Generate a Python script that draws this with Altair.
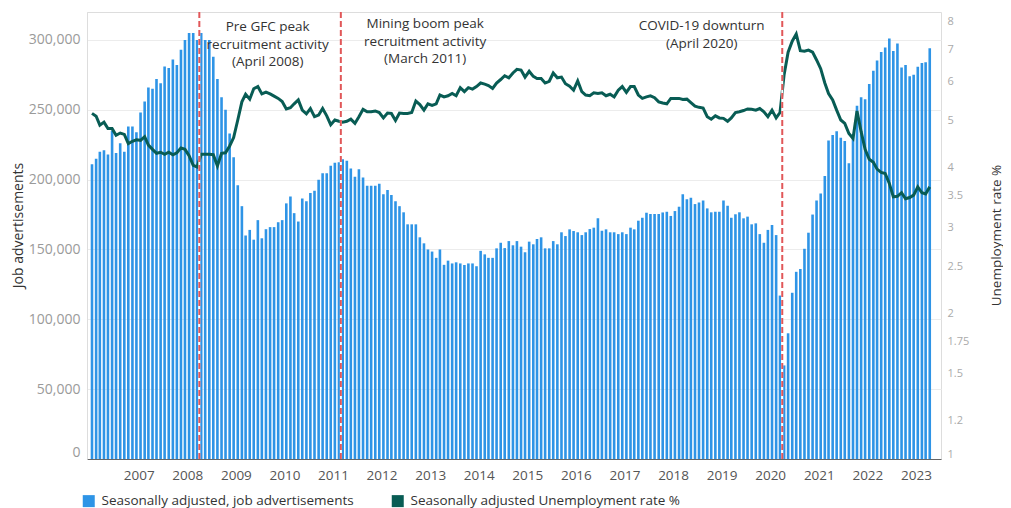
import altair as alt
import pandas as pd

SERIES_ADS = "Seasonally adjusted, job advertisements"
SERIES_UR = "Seasonally adjusted Unemployment rate %"

# Job advertisements (thousands), monthly Jan 2006 - Apr 2023
ads_k = [
    211, 215, 220, 221, 218, 235, 219, 226, 220, 238, 238, 234,              # 2006
    248, 256, 266, 265, 272, 269, 281, 280, 286, 282, 293, 300,              # 2007
    305, 305, 300, 305, 300, 300, 288, 272, 259, 250, 233, 216,              # 2008
    196, 181, 160, 164, 157, 171, 158, 164.5, 166, 166, 169.5, 171,          # 2009
    183, 188, 176, 170, 186.5, 184.5, 190.5, 192, 200, 204.5, 204.5, 210,    # 2010
    212, 212.5, 214.5, 213.5, 208, 202, 207.5, 201.5, 195.7, 195.7, 195.7, 197,  # 2011
    189.5, 192.5, 189, 184.5, 181, 176.6, 168, 168, 168, 158.7, 154.4, 150,  # 2012
    148.5, 144, 150, 139, 142, 140, 140.8, 140, 138.9, 140, 140, 138,        # 2013
    149, 146.5, 144, 144, 150.8, 154.8, 151, 156, 153, 156, 152, 148,        # 2014
    155.6, 153.7, 157.5, 158.7, 150.8, 150.8, 156, 153.7, 162.3, 159.6, 164.4, 163.2,  # 2015
    162.3, 160.3, 162.3, 164.6, 165.6, 172.3, 163.4, 164.4, 162.3, 162.3, 161, 162.3,  # 2016
    161, 165.6, 164.4, 170.6, 172.7, 176.3, 175.4, 175.4, 175.4, 176.5, 177, 174,      # 2017
    177.5, 180.6, 189.5, 186, 187, 182.5, 183.7, 185, 179.4, 176.6, 177, 177,          # 2018
    185, 181.3, 172.7, 175.2, 176.6, 172.3, 173.5, 168, 168.7, 161, 154.8, 164,        # 2019
    167.5, 160.3, 117, 67, 90, 119, 134, 136, 150.5, 162, 175, 185,                    # 2020
    190, 202.6, 228, 232, 234.6, 230, 227.6, 211.7, 232.5, 252.8, 259, 257.6,          # 2021
    268.4, 278, 285.3, 291.3, 294.5, 301, 292, 297.5, 280.2, 282, 274, 275,            # 2022
    280.8, 283.5, 284, 294,                                                            # 2023
]

# Unemployment rate %, monthly Jan 2006 - Apr 2023
unemp = [
    5.16, 5.09, 4.88, 4.95, 4.80, 4.80, 4.65, 4.70, 4.67, 4.47, 4.52, 4.55,  # 2006
    4.54, 4.62, 4.44, 4.35, 4.27, 4.29, 4.25, 4.29, 4.24, 4.28, 4.38, 4.35,  # 2007
    4.22, 4.03, 4.00, 4.25, 4.25, 4.25, 4.24, 4.02, 4.27, 4.28, 4.42, 4.60,  # 2008
    5.00, 5.45, 5.65, 5.52, 5.80, 5.86, 5.66, 5.71, 5.66, 5.60, 5.54, 5.46,  # 2009
    5.27, 5.30, 5.40, 5.50, 5.24, 5.15, 5.28, 5.08, 5.12, 5.28, 5.10, 4.89,  # 2010
    5.00, 4.97, 4.95, 4.97, 5.02, 4.92, 5.08, 5.26, 5.20, 5.20, 5.22, 5.18,  # 2011
    5.05, 5.17, 5.16, 4.99, 5.17, 5.16, 5.16, 5.18, 5.47, 5.38, 5.24, 5.40,  # 2012
    5.36, 5.40, 5.63, 5.58, 5.61, 5.67, 5.61, 5.83, 5.72, 5.83, 5.79, 5.86,  # 2013
    5.96, 5.93, 5.89, 5.81, 5.96, 6.06, 6.17, 6.11, 6.25, 6.36, 6.34, 6.13,  # 2014
    6.30, 6.15, 6.09, 6.09, 5.96, 6.01, 6.25, 6.11, 6.13, 5.94, 5.87, 5.76,  # 2015
    6.02, 5.72, 5.63, 5.61, 5.69, 5.67, 5.69, 5.61, 5.65, 5.58, 5.76, 5.86,  # 2016
    5.70, 5.86, 5.86, 5.63, 5.54, 5.58, 5.61, 5.56, 5.45, 5.42, 5.40, 5.54,  # 2017
    5.54, 5.54, 5.51, 5.52, 5.43, 5.34, 5.31, 5.29, 5.08, 5.02, 5.10, 5.05,  # 2018
    5.04, 4.97, 5.05, 5.18, 5.20, 5.23, 5.27, 5.26, 5.24, 5.28, 5.20, 5.08,  # 2019
    5.24, 5.05, 5.18, 6.20, 6.90, 7.27, 7.52, 6.95, 6.93, 6.97, 6.90, 6.65,  # 2020
    6.38, 5.96, 5.67, 5.50, 5.24, 5.00, 4.92, 4.69, 4.58, 5.22, 4.73, 4.35,  # 2021
    4.15, 4.09, 3.96, 3.90, 3.88, 3.70, 3.47, 3.48, 3.54, 3.44, 3.46, 3.50,  # 2022
    3.64, 3.54, 3.52, 3.64,                                                  # 2023
]

months = pd.date_range("2006-01-01", periods=len(ads_k), freq="MS") + pd.Timedelta(days=14)

df = pd.DataFrame({
    "date": months.strftime("%Y-%m-%d"),
    "ads": [v * 1000 for v in ads_k],
    "rate": unemp,
    "series": SERIES_ADS,
})

event_dates = ["2008-04-01", "2011-03-01", "2020-04-01"]
events = pd.DataFrame({"date": event_dates})

ann_dates = ["2009-08-28"] * 3 + ["2012-11-24"] * 3 + ["2018-08-04"] * 2
ann_text = ["Pre GFC peak", "recruitment activity", "(April 2008)",
            "Mining boom peak", "recruitment activity", "(March 2011)",
            "COVID-19 downturn", "(April 2020)"]
ann_y = [309200, 296700, 284200, 311400, 298500, 286300, 310000, 297000]
ann = pd.DataFrame({"date": ann_dates, "text": ann_text, "yv": ann_y})

year_ticks = list(range(2007, 2024))
left_ticks = [0, 50000, 100000, 150000, 200000, 250000, 300000]
right_ticks = [1, 1.2, 1.5, 1.75, 2, 2.5, 3, 3.5, 4, 5, 6, 7, 8]

FONT = "Open Sans"
BLUE = "#2e94e6"
TEAL = "#085c54"
RED = "#e15759"

x_enc = alt.X(
    "date:T",
    scale=alt.Scale(domain=[alt.DateTime(year=2006, month=1, date=15),
                            alt.DateTime(year=2023, month=6, date=1)]),
    axis=alt.Axis(
        values=[alt.DateTime(year=y, month=1, date=1) for y in year_ticks],
        format="%Y", title=None, grid=False, ticks=False,
        labelFont=FONT, labelFontSize=13.5, labelColor="#555555", labelPadding=9,
        domainColor="#666666", domainWidth=1,
    ),
)

left_scale = alt.Scale(domain=[0, 320000], nice=False, zero=True)

bars = alt.Chart(df).mark_bar(size=2.6, clip=True).encode(
    x=x_enc,
    y=alt.Y("ads:Q", scale=left_scale,
            axis=alt.Axis(values=left_ticks, format=",.0f", title="Job advertisements",
                          orient="left", ticks=False, labelFlush=True,
                          labelFont=FONT, labelFontSize=14, labelColor="#9a9a9a",
                          labelPadding=7, domainColor="#dddddd",
                          grid=True, gridColor="#ececec",
                          titleFont=FONT, titleFontSize=14, titleColor="#333333",
                          titleFontWeight="normal", titleAngle=270,
                          titleBaseline="middle", titleAlign="center",
                          titleX=-69, titleY=213)),
    color=alt.Color("series:N",
                    scale=alt.Scale(domain=[SERIES_ADS, SERIES_UR], range=[BLUE, TEAL]),
                    legend=alt.Legend(title=None, orient="none", direction="horizontal",
                                      legendX=-5, legendY=482, symbolType="square",
                                      symbolSize=144, symbolStrokeWidth=0,
                                      labelFont=FONT, labelFontSize=13.5,
                                      labelColor="#333333", columnPadding=37,
                                      labelOffset=6, padding=0, labelLimit=0)),
)

line = alt.Chart(df).mark_line(color=TEAL, strokeWidth=3, clip=True).encode(
    x=x_enc,
    y=alt.Y("rate:Q", scale=alt.Scale(type="log", domain=[1, 8.35], nice=False),
            axis=alt.Axis(values=right_ticks, title="Unemployment rate %", orient="right",
                          ticks=False, grid=False, domain=False, labelFlush=True,
                          labelFont=FONT, labelFontSize=11, labelColor="#aaaaaa",
                          labelPadding=6,
                          titleFont=FONT, titleFontSize=13.5, titleColor="#333333",
                          titleFontWeight="normal", titleAngle=270,
                          titleBaseline="middle", titleAlign="center",
                          titleX=55, titleY=223)),
)

rule_bg = alt.Chart(events).mark_rule(color="white", strokeWidth=2).encode(x="date:T")
rule_fg = alt.Chart(events).mark_rule(color=RED, strokeWidth=2, strokeDash=[6, 3]).encode(x="date:T")

text = alt.Chart(ann).mark_text(font=FONT, fontSize=13.5, color="#333333",
                                align="center", baseline="middle").encode(
    x="date:T",
    y=alt.Y("yv:Q", scale=alt.Scale(domain=[0, 320000], nice=False), axis=None),
    text="text:N",
)

chart = alt.layer(bars, line, rule_bg, rule_fg, text).resolve_scale(
    y="independent"
).properties(
    width=854, height=447,
    autosize=alt.AutoSizeParams(type="none"),
    padding={"left": 79, "top": 4, "right": 62, "bottom": 49},
).configure_view(stroke=None).configure(font=FONT)

chart.save("out.html", embed_options={"renderer": "svg", "actions": False})
